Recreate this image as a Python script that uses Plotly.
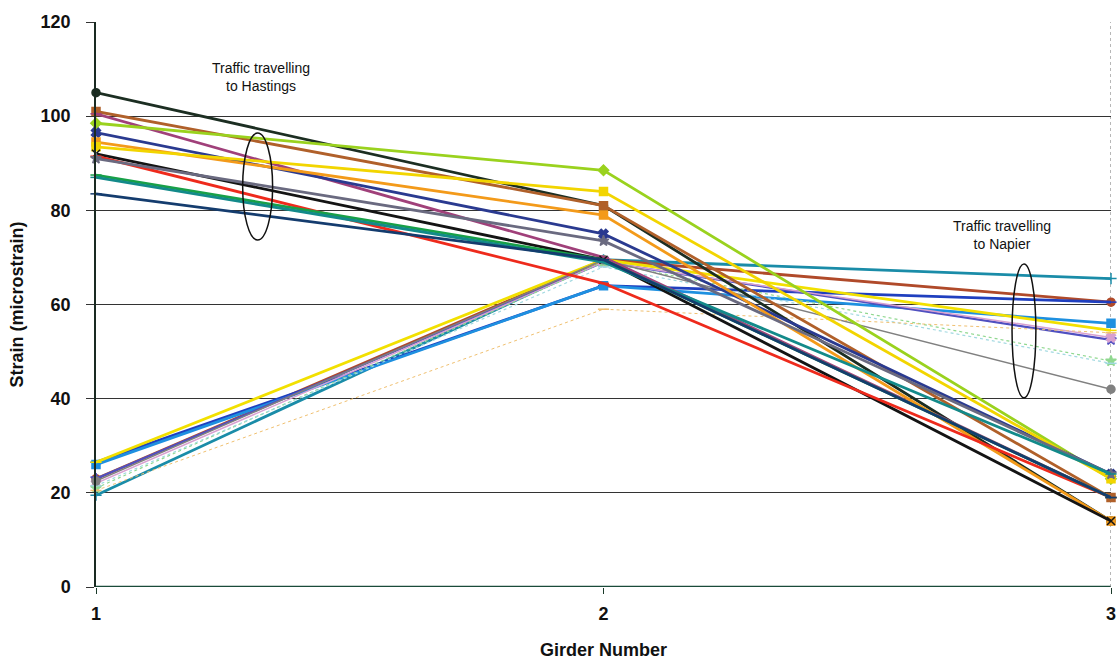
import plotly.graph_objects as go

girders = [1, 2, 3]

# Strain per girder for each truck run, traffic travelling to Hastings
hastings_names = ["H1", "H2", "H3", "H4", "H5", "H6", "H7", "H8", "H9", "H10", "H11", "H12", "H13"]
hastings_values = [
    [105.0, 81.0, 14.0],
    [101.0, 81.0, 19.0],
    [100.5, 70.0, 19.0],
    [98.5, 88.5, 23.0],
    [96.5, 75.0, 24.0],
    [94.5, 79.0, 14.0],
    [93.5, 84.0, 23.0],
    [92.0, 69.5, 14.0],
    [91.5, 64.5, 19.0],
    [91.0, 73.5, 24.0],
    [87.5, 69.5, 19.0],
    [87.0, 69.0, 24.0],
    [83.5, 69.5, 19.0],
]
hastings_colors = ["#1c2e22", "#b0602a", "#a0407a", "#9ad21e", "#2a3a90", "#f39a1a",
                   "#f2d500", "#141414", "#ee2a1c", "#6a6a80", "#18a048", "#138a8a", "#143c6e"]
hastings_symbols = ["circle", "square", "line-ew", "diamond", "x", "square", "square",
                    "x-thin", "line-ew", "star", "line-ew", "line-ew", "line-ew"]

# Strain per girder for each truck run, traffic travelling to Napier
napier_names = ["N1", "N2", "N3", "N4", "N5", "N6", "N7", "N8", "N9", "N10", "N11"]
napier_values = [
    [19.5, 69.5, 65.5],
    [23.0, 69.5, 60.5],
    [26.5, 64.0, 60.5],
    [26.0, 64.0, 56.0],
    [23.0, 69.0, 52.5],
    [26.5, 69.5, 54.5],
    [22.0, 69.0, 53.0],
    [21.0, 69.0, 48.0],
    [21.5, 68.0, 47.5],
    [22.5, 69.5, 42.0],
    [20.5, 59.0, 54.0],
]
napier_colors = ["#1a8ca8", "#b04a2a", "#1f3fbf", "#1e90e0", "#5050c0", "#f2e000",
                 "#d8a0d0", "#90d890", "#a0d8e0", "#808080", "#f0c070"]
napier_symbols = ["cross-thin", "circle", "line-ew", "square", "star", "line-ew",
                  "x", "star", "line-ew", "circle", "line-ew"]
napier_widths = [2.8, 2.8, 2.8, 2.8, 2.2, 2.8, 1.5, 1.2, 1.2, 1.5, 1.0]
napier_dash = ["solid", "solid", "solid", "solid", "solid", "solid", "solid",
               "dot", "dot", "solid", "dot"]

fig = go.Figure()

for name, vals, col, sym, w, d in zip(napier_names, napier_values, napier_colors,
                                      napier_symbols, napier_widths, napier_dash):
    fig.add_trace(go.Scatter(x=girders, y=vals, name=name, mode="lines+markers",
                             line=dict(color=col, width=w, dash=d),
                             marker=dict(symbol=sym, size=8, color=col,
                                         line=dict(color=col, width=1.5)),
                             cliponaxis=False))

for name, vals, col, sym in zip(hastings_names, hastings_values, hastings_colors,
                                hastings_symbols):
    fig.add_trace(go.Scatter(x=girders, y=vals, name=name, mode="lines+markers",
                             line=dict(color=col, width=2.8),
                             marker=dict(symbol=sym, size=8, color=col,
                                         line=dict(color=col, width=1.5)),
                             cliponaxis=False))

# Groups of runs circled and labelled
fig.add_shape(type="circle", xref="x", yref="y", x0=1.289, x1=1.348, y0=73.7, y1=96.4,
              line=dict(color="#111111", width=1.5))
fig.add_shape(type="circle", xref="x", yref="y", x0=2.805, x1=2.852, y0=40.2, y1=68.6,
              line=dict(color="#111111", width=1.5))

label_font = dict(family="Liberation Sans, Arial, sans-serif", size=14, color="#111111")
fig.add_annotation(x=1.325, y=108.3, xref="x", yref="y", showarrow=False,
                   text="Traffic travelling<br>to Hastings", font=label_font, align="center")
fig.add_annotation(x=2.785, y=74.8, xref="x", yref="y", showarrow=False,
                   text="Traffic travelling<br>to Napier", font=label_font, align="center")

axis_font = dict(family="Liberation Sans, Arial, sans-serif", size=18, color="#111111")

fig.update_layout(
    width=1118, height=664,
    margin=dict(l=96, r=7, t=22, b=77),
    paper_bgcolor="white", plot_bgcolor="white",
    showlegend=False,
    font=axis_font,
    xaxis=dict(range=[1, 3], tickvals=[1, 2, 3], ticktext=["<b>1</b>", "<b>2</b>", "<b>3</b>"],
               showgrid=False, zeroline=False, showline=False,
               ticks="outside", ticklen=6, tickcolor="#1a3a2a",
               ticklabeloverflow="allow", automargin=False,
               ticklabelstandoff=4,
               title=dict(text="<b>Girder Number</b>", font=axis_font, standoff=20),
               tickfont=axis_font),
    yaxis=dict(range=[0, 120], tickvals=[0, 20, 40, 60, 80, 100, 120],
               ticktext=["<b>%d</b>" % v for v in [0, 20, 40, 60, 80, 100, 120]],
               showgrid=True, gridcolor="#333333", gridwidth=1,
               zeroline=False, showline=True, linecolor="#1a2a22", linewidth=1.5,
               ticks="outside", ticklen=8, tickcolor="#333333",
               ticklabelstandoff=12, automargin=False,
               title=dict(text="<b>Strain (microstrain)</b>", font=axis_font, standoff=12),
               tickfont=axis_font),
)

# Baseline at zero strain and the girder 3 reference line
fig.add_shape(type="line", xref="paper", yref="y", x0=0, x1=1, y0=0, y1=0,
              line=dict(color="#1a4a3a", width=2.5), layer="below")
fig.add_shape(type="line", xref="x", yref="paper", x0=3, x1=3, y0=0, y1=1,
              line=dict(color="#888888", width=1.2, dash="dot"), layer="below")

fig.write_html("out.html")
